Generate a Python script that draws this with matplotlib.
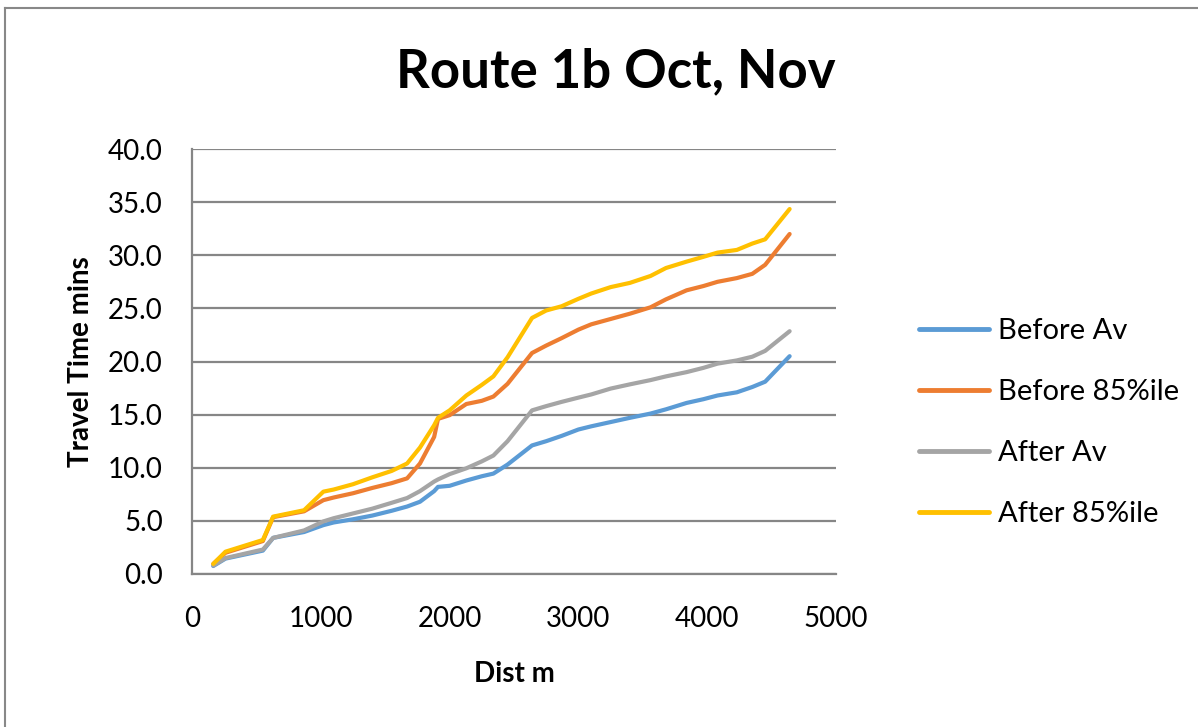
import matplotlib
matplotlib.use("Agg")
import matplotlib.pyplot as plt
from matplotlib.lines import Line2D

dist = [165, 260, 550, 630, 870, 1020, 1100, 1250, 1400, 1550, 1670, 1770, 1880, 1910,
        2000, 2130, 2250, 2340, 2450, 2640, 2750, 2870, 3000, 3100, 3250, 3400, 3560,
        3680, 3840, 3970, 4080, 4230, 4350, 4450, 4640]

before_av = [0.75, 1.45, 2.2, 3.4, 3.95, 4.6, 4.85, 5.15, 5.5, 5.95, 6.35, 6.8, 7.8, 8.2,
             8.3, 8.8, 9.2, 9.45, 10.3, 12.1, 12.5, 13.0, 13.6, 13.9, 14.3, 14.7, 15.1,
             15.5, 16.1, 16.45, 16.8, 17.1, 17.6, 18.1, 20.5]
before_85 = [0.95, 2.0, 3.1, 5.35, 5.9, 6.95, 7.2, 7.6, 8.1, 8.55, 9.0, 10.4, 12.9, 14.6,
             14.95, 16.0, 16.3, 16.7, 17.9, 20.8, 21.5, 22.2, 23.0, 23.5, 24.0, 24.5, 25.1,
             25.85, 26.7, 27.1, 27.5, 27.85, 28.25, 29.1, 32.0]
after_av = [0.8, 1.5, 2.3, 3.4, 4.1, 4.95, 5.25, 5.7, 6.15, 6.7, 7.15, 7.8, 8.7, 8.9,
            9.4, 9.95, 10.6, 11.15, 12.5, 15.4, 15.8, 16.2, 16.6, 16.9, 17.45, 17.85, 18.25,
            18.6, 19.0, 19.4, 19.8, 20.1, 20.45, 21.0, 22.85]
after_85 = [0.95, 2.1, 3.2, 5.4, 6.0, 7.75, 7.95, 8.45, 9.1, 9.7, 10.4, 11.9, 14.0, 14.7,
            15.4, 16.8, 17.8, 18.6, 20.4, 24.1, 24.8, 25.2, 25.9, 26.4, 27.0, 27.4, 28.05,
            28.8, 29.4, 29.85, 30.25, 30.5, 31.1, 31.5, 34.35]

series_names = ["Before Av", "Before 85%ile", "After Av", "After 85%ile"]
series_colors = ["#5B9BD5", "#ED7D31", "#A5A5A5", "#FFC000"]
yticks = [0, 5, 10, 15, 20, 25, 30, 35, 40]
xticks = [0, 1000, 2000, 3000, 4000, 5000]

plt.rcParams['font.family'] = ['Lato', 'DejaVu Sans']

W, H = 1198, 727
fig = plt.figure(figsize=(W / 100, H / 100), dpi=100)
ax = fig.add_axes([192 / W, 1 - 574 / H, (836 - 192) / W, (574 - 149) / H])

for ys, name, c in zip([before_av, before_85, after_av, after_85], series_names, series_colors):
    ax.plot(dist, ys, color=c, lw=3.0, label=name, solid_joinstyle='round', solid_capstyle='round')

ax.set_xlim(0, 5000)
ax.set_ylim(0, 40)
ax.set_xticks(xticks)
ax.set_yticks(yticks)
ax.set_yticklabels([f"{v:.1f}" for v in yticks])
ax.grid(axis='y', color='#868686', lw=1.6)
ax.set_axisbelow(True)
for s in ['top', 'right']:
    ax.spines[s].set_visible(False)
for s in ['left', 'bottom']:
    ax.spines[s].set_color('#868686')
    ax.spines[s].set_linewidth(1.6)
ax.tick_params(axis='both', length=0, labelsize=20)
ax.tick_params(axis='x', pad=23)
ax.tick_params(axis='y', pad=21)

ax.set_xlabel("Dist m", fontsize=20, fontweight='bold', labelpad=21)
ax.set_ylabel("Travel Time mins", fontsize=20, fontweight='bold', labelpad=10)

fig.text(616 / W, 1 - 72 / H, "Route 1b Oct, Nov", fontsize=38, fontweight='bold',
         ha='center', va='center')

handles = [Line2D([0], [0], color=c, lw=3.5, solid_capstyle='round') for c in series_colors]
fig.legend(handles, series_names, loc='upper left', bbox_to_anchor=(893 / W, 1 - 292 / H),
           frameon=False, fontsize=21, handlelength=2.4, handletextpad=0.3, labelspacing=1.2)

fig.add_artist(Line2D([5 / W, 5 / W], [0, 1 - 8 / H], color='#888888', lw=1.5, transform=fig.transFigure))
fig.add_artist(Line2D([5 / W, 1], [1 - 8 / H, 1 - 8 / H], color='#888888', lw=1.5, transform=fig.transFigure))

fig.savefig("out.png", dpi=100)
